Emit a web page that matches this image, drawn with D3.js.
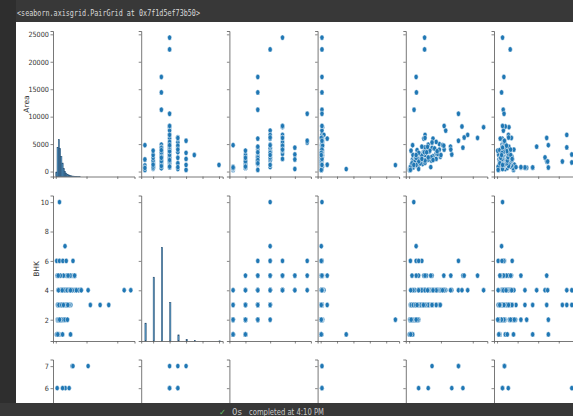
<!DOCTYPE html>
<html>
<head>
<meta charset="utf-8">
<script src="https://cdn.jsdelivr.net/npm/d3@7"></script>
<style>
  body { margin: 0; background: #fff; }
  svg { display: block; }
  .tick text { font-family: "DejaVu Sans", sans-serif; fill: #333; }
</style>
</head>
<body>
<svg id="chart" width="573" height="416"></svg>
<script>
var variables = ["Area", "BHK", "Bathroom", "Parking", "Price", "Per_Sqft"];

// each row: [Area, BHK, Bathroom, Parking, Price (millions), Per_Sqft (thousands)]
var bhk1Rows = [
  [450,1,1,1,2.5,5.5],[600,1,1,1,3.8,6.3],[750,1,1,1,4.5,6.0],[900,1,1,1,6.0,6.7],
  [1100,1,2,1,7.5,6.8],[700,1,2,1,9.0,86.6],[2200,1,2,1,10.5,4.8],[4800,1,1,1,11.0,124.7],
  [350,1,1,1,1.5,4.3],[440,1,1,39,3.0,20.0],[300,1,1,1,1.2,40.0],[650,1,2,1,5.0,25.0]
];
var bhk2Rows = [
  [500,2,1,1,2.0,4.0],[600,2,1,1,7.5,12.5],[650,2,2,1,4.2,6.5],[700,2,2,1,9.0,12.9],
  [750,2,2,1,3.5,4.7],[800,2,2,1,11.2,14.0],[850,2,2,2,6.0,7.1],[900,2,2,1,14.5,16.1],
  [950,2,2,1,8.0,8.4],[1000,2,2,2,18.0,18.0],[1050,2,2,1,10.5,10.0],[1100,2,2,1,21.0,19.1],
  [1170,2,2,114,9.0,7.7],[1200,2,3,1,12.0,10.0],[1300,2,2,2,25.0,19.2],[1400,2,3,1,15.0,10.7],
  [1500,2,2,1,28.0,18.7],[1650,2,3,2,17.0,10.3],[1800,2,2,1,30.0,16.7],[2000,2,3,1,20.0,10.0],
  [2500,2,4,2,27.0,10.8],[3000,2,2,1,12.0,4.0],[3800,2,2,1,6.0,1.6],[730,2,1,1,2.5,58.0],
  [700,2,2,1,4.0,72.0],[730,2,2,1,6.0,124.7],[1000,2,2,3,10.0,30.0],[800,2,2,1,5.5,45.0],
  [600,2,1,1,3.0,39.0],[900,2,2,1,6.5,33.0],[1250,2,2,1,22.0,42.0]
];
var bhk3Rows = [
  [17230,3,3,2,22,16.6],[14420,3,3,2,23,11.0],[11250,3,3,2,15.5,15.0],
  [900,3,2,1,8,8.9],[1000,3,2,1,15,15],[1100,3,2,1,6,5.5],[1200,3,2,1,20,16.7],
  [1250,3,3,2,11,8.8],[1300,3,2,1,25,19.2],[1350,3,3,1,9,6.7],[1400,3,3,2,30,21.4],
  [1450,3,2,1,14,9.7],[1500,3,3,1,35,23.3],[1600,3,3,2,18,11.3],[1700,3,3,1,40,23.5],
  [1800,3,3,2,22,12.2],[1900,3,3,1,45,23.7],[2000,3,3,2,28,14],[2100,3,4,2,55,26.2],
  [2250,3,3,1,33,14.7],[2400,3,4,2,60,25],[2600,3,3,2,38,14.6],[2800,3,4,1,75,26.8],
  [3000,3,3,2,50,16.7],[3300,3,4,3,85,25.8],[3600,3,4,2,62,17.2],[4000,3,3,1,95,23.8],
  [4900,3,4,2,60,12.2],[800,3,1,1,6,46],[1230,3,2,10,11,8.9],[1650,3,3,2,30,181.7],
  [700,3,2,1,9,67.8],[750,3,2,1,12,86.6],[1830,3,3,2,18,120.7],[1830,3,3,1,40,158.8],
  [4400,3,3,2,50,169.5],[600,3,1,1,4,2.7],[1100,3,2,1,7,35],
  [1350,3,3,1,42,31.1],[1600,3,3,2,50,31.3],[2000,3,3,1,70,35],[2300,3,4,2,85,37],
  [2700,3,3,2,98,36.3],[3200,3,4,1,35,10.9],[3500,3,3,2,45,12.9],[4300,3,4,2,72,16.7],
  [1000,3,2,1,28,28],[1900,3,3,1,13,6.8],[2500,3,3,2,20,8],[3900,3,4,1,25,6.4]
];
var bhk4Rows = [
  [24400,4,5,2,48.6,13.4],[22250,4,4,2,48.6,32],[10520,4,7,2,155,17],[3100,4,6,2,134,181.7],
  [2200,4,6,2,60,27.3],[8060,4,5,3,234,29],[6670,4,5,2,184,27.6],[8200,4,5,2,166,20.2],
  [7460,4,4,2,115,15.4],[4530,4,5,2,130,28.7],[1500,4,3,1,35,23.3],[1800,4,3,2,18,10],
  [2000,4,4,2,50,25],[2300,4,4,1,28,12.2],[2600,4,4,2,70,26.9],[2900,4,4,3,40,13.8],
  [3200,4,5,2,90,28.1],[3500,4,4,2,48,13.7],[3800,4,5,3,65,17.1],[4200,4,4,2,80,19],
  [5000,4,5,2,95,19],[6000,4,4,3,75,12.5],[8300,4,5,2,110,13.3],[750,4,1,1,12,67.8],
  [4530,4,3,2,40,96.3],[2570,4,4,2,60,116.6],[1830,4,2,1,30,123],[6670,4,4,5,50,169.5],
  [900,4,2,1,5,2.7],[4000,4,5,2,110,41],
  [3000,4,4,2,100,33.3],[3700,4,4,2,88,23.8],[4500,4,5,2,58,12.9],[5400,4,5,3,85,15.7],
  [2100,4,3,1,75,35.7],[4800,4,4,2,105,21.9]
];
var bhk5Rows = [
  [4350,5,6,2,169,13.5],[450,5,6,2,29.8,13.2],[5300,5,7,2,72,18.5],[6120,5,5,2,215,35],
  [6200,5,4,2,173,28],[4710,5,5,3,109,23],[6000,5,3,10,46,7.7],[3500,5,4,2,55,15.7],
  [2500,5,2,1,22,8.8],[1500,5,3,1,9,6.8],[800,5,4,2,68,58],[6120,5,5,1,50,120.7],
  [4000,5,5,2,131,33]
];
var bhk6PlusRows = [
  [5600,6,7,2,155,18],[300,6,3,1,4,2.7],[1200,6,4,1,22,16.6],[2300,6,5,2,40,36.8],
  [3400,6,4,1,30,12],[3000,7,4,1,22,11],[1200,10,4,2,14.6,13.4]
];

// diagonal histograms (counts)
var areaBinWidth = 400;
var areaCounts = [40,260,330,250,180,120,70,45,30,20,14,9,6,4,3,2,2,1,1,1];
var bhkValues = [1,2,3,4,5,6,7,10];
var bhkCounts = [108,386,567,233,37,9,2,1];
var bathValues = [1,2,3,4,5,6,7];
var bathCounts = [60,520,340,190,80,8,3];

// tick values
var areaTicks = [0,10000,20000];
var areaYTicks = [0,5000,10000,15000,20000,25000];
var bhkTicks = [2,4,6,8,10];
var bathTicks = [2,4,6];
var bathYTicks = [6,7];
var parkingTicks = [0,25,50,75,100];
var priceTicks = [0,100,200];
var sqftTicks = [0,50,100,150];

var rows = [].concat(bhk1Rows, bhk2Rows, bhk3Rows, bhk4Rows, bhk5Rows, bhk6PlusRows);

var svg = d3.select("#chart");
var colLeft = 53, colStep = 88.2, panelW = 81.5;
var rowTops = [31, 195.5, 359.5], panelH = 145.5;
var blue = "#1f77b4";

var xTicksByVar = [areaTicks, bhkTicks, bathTicks, parkingTicks, priceTicks, sqftTicks];
var yTicksByVar = [areaYTicks, bhkTicks, bathYTicks];

// padded scales like seaborn (5% margin)
function padded(k) {
  var ext = d3.extent(rows, function(r) { return r[k]; });
  var pad = (ext[1] - ext[0]) * 0.05;
  return [ext[0] - pad, ext[1] + pad];
}
var xScales = variables.map(function(v, k) {
  return d3.scaleLinear().domain(padded(k)).range([0, panelW]);
});
var yScales = [0, 1, 2].map(function(k) {
  return d3.scaleLinear().domain(padded(k)).range([panelH, 0]);
});

var histY = [
  d3.scaleLinear().domain([0, 1300]).range([panelH, 0]),
  d3.scaleLinear().domain([0, 880]).range([panelH, 0]),
  d3.scaleLinear().domain([0, 880]).range([panelH, 0])
];

for (var i = 0; i < 3; i++) {
  for (var j = 0; j < 6; j++) {
    var g = svg.append("g")
      .attr("transform", "translate(" + (colLeft + j * colStep) + "," + rowTops[i] + ")");
    var x = xScales[j], y = yScales[i];

    if (i == j) {
      var hy = histY[i];
      var bars;
      if (i == 0) {
        bars = areaCounts.map(function(c, b) { return {x0: b * areaBinWidth, x1: (b + 1) * areaBinWidth, n: c}; });
      } else if (i == 1) {
        bars = bhkValues.map(function(v, b) { return {x0: v, x1: v + 0.16, n: bhkCounts[b]}; });
      } else {
        bars = bathValues.map(function(v, b) { return {x0: v, x1: v + 0.12, n: bathCounts[b]}; });
      }
      g.selectAll("rect.bar").data(bars).enter().append("rect")
        .attr("class", "bar")
        .attr("x", function(d) { return x(d.x0); })
        .attr("width", function(d) { return Math.max(0.8, x(d.x1) - x(d.x0)); })
        .attr("y", function(d) { return hy(d.n); })
        .attr("height", function(d) { return panelH - hy(d.n); })
        .attr("fill", blue)
        .attr("fill-opacity", 0.75)
        .attr("stroke", "#24496b")
        .attr("stroke-width", 0.5);
    } else {
      g.selectAll("ellipse").data(rows).enter().append("ellipse")
        .attr("cx", function(d) { return x(d[j]); })
        .attr("cy", function(d) { return y(d[i]); })
        .attr("rx", 2.1)
        .attr("ry", 2.7)
        .attr("fill", blue)
        .attr("stroke", "#fff")
        .attr("stroke-width", 0.5);
    }

    // left spine + ticks
    var ya = g.append("g").call(d3.axisLeft(y).tickValues(yTicksByVar[i])
      .tickSize(2.5).tickPadding(2)
      .tickFormat(j == 0 ? d3.format("d") : function() { return ""; }));
    // bottom spine + ticks
    var xa = g.append("g").attr("transform", "translate(0," + panelH + ")")
      .call(d3.axisBottom(x).tickValues(xTicksByVar[j]).tickSize(2.5)
      .tickFormat(function() { return ""; }));
    [ya, xa].forEach(function(a) {
      a.select(".domain").attr("stroke", "#555").attr("stroke-width", 0.8);
      a.selectAll(".tick line").attr("stroke", "#555").attr("stroke-width", 0.7);
    });
    ya.selectAll(".tick text").attr("font-size", 7.2)
      .attr("transform", "scale(0.9,1)");
  }
}

// y labels (the third one, Bathroom, sits below the visible area)
svg.append("text").attr("transform", "translate(29,104) rotate(-90)")
  .attr("text-anchor", "middle").attr("font-family", "DejaVu Sans").attr("font-size", 7.5)
  .attr("fill", "#333").text("Area");
svg.append("text").attr("transform", "translate(39,269) rotate(-90)")
  .attr("text-anchor", "middle").attr("font-family", "DejaVu Sans").attr("font-size", 7.5)
  .attr("fill", "#333").text("BHK");

// notebook frame
svg.append("rect").attr("x", 0).attr("y", 0).attr("width", 573).attr("height", 22).attr("fill", "#383838");
svg.append("rect").attr("x", 0).attr("y", 0).attr("width", 16).attr("height", 416).attr("fill", "#2e2e2e");
svg.append("rect").attr("x", 0).attr("y", 403).attr("width", 573).attr("height", 13).attr("fill", "#383838");
svg.append("text").attr("x", 17).attr("y", 15.5)
  .attr("font-family", "DejaVu Sans Mono").attr("font-size", 8.5).attr("fill", "#d8d8d8")
  .attr("textLength", 183).attr("lengthAdjust", "spacingAndGlyphs")
  .text("<seaborn.axisgrid.PairGrid at 0x7f1d5ef73b50>");
svg.append("text").attr("x", 219).attr("y", 415)
  .attr("font-family", "DejaVu Sans").attr("font-size", 8.5).attr("fill", "#5fb760").text("\u2713");
svg.append("text").attr("x", 232).attr("y", 415)
  .attr("font-family", "DejaVu Sans").attr("font-size", 8.5).attr("fill", "#c8c8c8")
  .text("0s");
svg.append("text").attr("x", 249).attr("y", 415)
  .attr("font-family", "DejaVu Sans").attr("font-size", 8.5).attr("fill", "#c8c8c8")
  .attr("textLength", 75).attr("lengthAdjust", "spacingAndGlyphs")
  .text("completed at 4:10 PM");
</script>
</body>
</html>
